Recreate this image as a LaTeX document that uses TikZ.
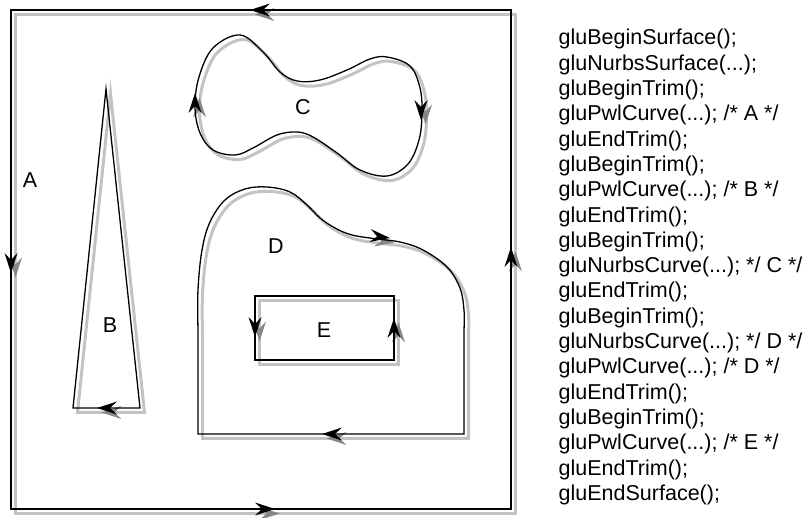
\documentclass[tikz,border=0pt]{standalone}
\usepackage{fontspec}
\setmainfont{Liberation Sans}
\definecolor{shadowgray}{RGB}{195,195,195}
\definecolor{tipgray}{RGB}{135,135,135}
\newcommand\tipat[4]{\pic[fill=#1, rotate=#4] at (#2,#3) {tip};}
\newcommand\codeline[2]{\node[code] (code#1) at (558.5,{45+25.3*(#1-1)}) {#2};}
\newcommand\trimshapes[2]{%
  % A: outer rectangle
  \draw[#1] (11,10) rectangle (511,509);
  % B: triangle
  \draw[#1] (106,89) -- (140,408) -- (73,408) -- cycle;
  % C: closed NURBS curve
  \draw[#1] plot[smooth cycle, tension=0.6] coordinates {(240,35) (263,52) (280,72) (297,81) (320,80) (347,70) (370,59) (387,57) (410,66) (420,88) (422,113) (419,140) (408,164) (387,176) (360,170) (337,153) (313,137) (297,132) (277,135) (253,148) (235,155) (213,150) (200,133) (195,107) (199,77) (213,48)};
  % D: curve plus polyline
  \draw[#1] plot[smooth, tension=0.6] coordinates {(198,330) (198,290) (202,250) (210,222) (225,200) (245,189) (267,187) (290,192) (307,205) (320,218) (335,228) (352,235) (377,239) (400,242) (423,250) (447,267) (460,288) (464,310) (464,330)} -- (464,434) -- (198,434) -- cycle;
  % E: rectangle
  \draw[#1] (255,296) rectangle (394,360);
  \tipat{#2}{250}{10}{180}
  \tipat{#2}{11}{273}{-90}
  \tipat{#2}{275}{509}{0}
  \tipat{#2}{511}{247}{90}
  \tipat{#2}{97}{408}{180}
  \tipat{#2}{195}{93}{90}
  \tipat{#2}{421}{120}{-90}
  \tipat{#2}{390}{238}{-7}
  \tipat{#2}{322}{434}{180}
  \tipat{#2}{255}{337}{-90}
  \tipat{#2}{394}{318}{90}
}
\begin{document}
\begin{tikzpicture}[x=1pt,y=-1pt,
  blk/.style={line width=1.3pt, draw=black, line join=miter},
  shd/.style={line width=3pt, draw=shadowgray, line join=miter},
  lbl/.style={font=\fontsize{21.5}{25}\selectfont, inner sep=0pt},
  code/.style={font=\fontsize{21.5}{25}\selectfont, inner sep=0pt, anchor=base west},
  tip/.pic={\path[pic actions] (0,0) -- (-20,-6.5) .. controls (-16,-2.5) .. (-13,0) .. controls (-16,2.5) .. (-20,6.5) -- cycle;}
]
\useasboundingbox (0,0) rectangle (804,518);
\begin{scope}[shift={(4.5,4.5)}]
  \trimshapes{shd}{tipgray}
\end{scope}
\trimshapes{blk}{black}
\node[lbl] (labA) at (30,180) {A};
\node[lbl] (labB) at (110,325) {B};
\node[lbl] (labC) at (303,107) {C};
\node[lbl] (labD) at (276,246) {D};
\node[lbl] (labE) at (324,330) {E};
\codeline{1}{gluBeginSurface();}
\codeline{2}{gluNurbsSurface(...);}
\codeline{3}{gluBeginTrim();}
\codeline{4}{gluPwlCurve(...); /* A */}
\codeline{5}{gluEndTrim();}
\codeline{6}{gluBeginTrim();}
\codeline{7}{gluPwlCurve(...); /* B */}
\codeline{8}{gluEndTrim();}
\codeline{9}{gluBeginTrim();}
\codeline{10}{gluNurbsCurve(...); */ C */}
\codeline{11}{gluEndTrim();}
\codeline{12}{gluBeginTrim();}
\codeline{13}{gluNurbsCurve(...); */ D */}
\codeline{14}{gluPwlCurve(...); /* D */}
\codeline{15}{gluEndTrim();}
\codeline{16}{gluBeginTrim();}
\codeline{17}{gluPwlCurve(...); /* E */}
\codeline{18}{gluEndTrim();}
\codeline{19}{gluEndSurface();}
\end{tikzpicture}
\end{document}
